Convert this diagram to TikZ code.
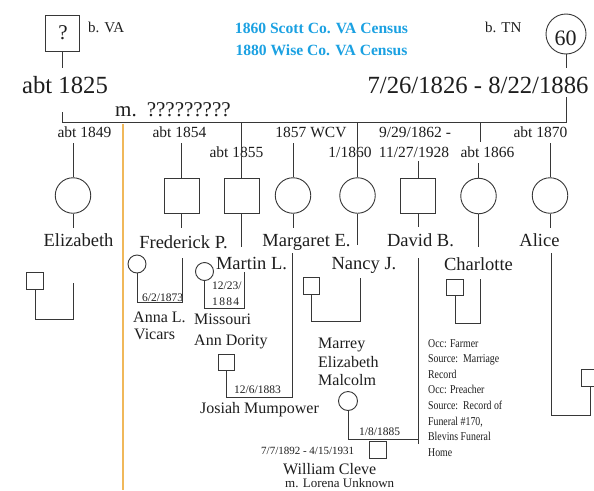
\documentclass[tikz,border=0pt]{standalone}
\usepackage{fontspec}
\setmainfont{Liberation Serif}
\definecolor{census}{RGB}{27,161,226}
\definecolor{orangeline}{RGB}{240,184,90}
\definecolor{lnc}{RGB}{55,55,55}
\definecolor{txtc}{RGB}{30,30,30}
\begin{document}
\begin{tikzpicture}[x=1pt,y=-1pt,
  ln/.style={draw=lnc, line width=0.9pt},
  bigsq/.style={draw=lnc, line width=0.9pt, minimum size=35pt, inner sep=0},
  bigc/.style={draw=lnc, line width=0.9pt, circle, minimum size=35.5pt, inner sep=0},
  smsq/.style={draw=lnc, line width=0.9pt, minimum size=16.5pt, inner sep=0},
  smc/.style={draw=lnc, line width=0.9pt, circle, minimum size=18pt, inner sep=0},
  txt/.style={inner sep=0, text=txtc},
  yr/.style={txt, anchor=base, font=\fontsize{15.5}{18}\selectfont},
  nm/.style={txt, anchor=base, font=\fontsize{18.5}{22}\selectfont},
  sp/.style={txt, anchor=base west, font=\fontsize{16}{19}\selectfont},
  dt/.style={txt, anchor=base west, font=\fontsize{11.5}{14}\selectfont},
  occ/.style={txt, anchor=base west, font=\fontsize{12}{14}\selectfont, xscale=0.82},
  big/.style={txt, anchor=base, font=\fontsize{24.7}{28}\selectfont},
  census/.style={inner sep=0, anchor=base, text=census, font=\bfseries\fontsize{15.6}{18}\selectfont},
]
\fill[white] (0,0) rectangle (594,490);
\useasboundingbox (0,0) rectangle (594,490);

% orange separator
\coordinate (oT) at (123,124);
\coordinate (oB) at (123,490);
\draw[draw=orangeline, line width=1.3pt] (oT) -- (oB);

% parents
\node[draw=lnc, line width=0.9pt, minimum width=34pt, minimum height=36pt, inner sep=0] (fa) at (62,33) {};
\node[txt, anchor=base, font=\fontsize{21}{24}\selectfont] (faq) at (63,39) {?};
\node[draw=lnc, line width=0.9pt, circle, minimum size=40pt, inner sep=0] (mo) at (566,34) {};
\node[txt, anchor=base, font=\fontsize{22}{24}\selectfont] (mon) at (565.5,45) {60};
\node[txt, anchor=base west, font=\fontsize{15}{18}\selectfont] (bva) at (88,32) {b. VA};
\node[txt, anchor=base west, font=\fontsize{15}{18}\selectfont] (btn) at (485,32) {b. TN};
\node[census] (c1) at (321.5,33) {1860 Scott Co. VA Census};
\node[census] (c2) at (321.5,55) {1880 Wise Co. VA Census};
\node[big] (fad) at (65,93) {abt 1825};
\node[big] (mod) at (478,93) {7/26/1826 - 8/22/1886};
\node[txt, anchor=base west, font=\fontsize{21}{24}\selectfont] (mar) at (115,116) {m.\hspace{10pt}?????????};

\coordinate (mL) at (62,122);
\coordinate (mR) at (566,122);
\draw[ln] (fa.south) -- (fa.south |- 0,68);
\draw[ln] (62,112) -- (mL) -- (mR) -- (566,97);
\draw[ln] (mo.south) -- (mo.south |- 0,68);

% year labels
\node[yr] (y49) at (84.5,137.5) {abt 1849};
\node[yr] (y54) at (179.5,137.5) {abt 1854};
\node[yr] (y57) at (311,137.5) {1857 WCV};
\node[yr] (y62) at (415,137.5) {9/29/1862 -};
\node[yr] (y70) at (540.5,137.5) {abt 1870};
\node[yr] (y55) at (236.5,157) {abt 1855};
\node[yr] (y60) at (350,157) {1/1860};
\node[yr] (y28) at (414,157) {11/27/1928};
\node[yr] (y66) at (487.5,157) {abt 1866};

% children
\node[bigc] (eliz) at (73,195.5) {};
\node[bigsq] (fred) at (181.5,195.5) {};
\node[bigsq] (mart) at (241.5,195.5) {};
\node[bigc] (marg) at (293,195.5) {};
\node[bigc] (nanc) at (357.5,195.5) {};
\node[bigsq] (davi) at (418,195.5) {};
\node[bigc] (char) at (478.5,196) {};
\node[bigc] (alic) at (550,195.5) {};

\node[nm] (neliz) at (78.5,246) {Elizabeth};
\node[nm] (nfred) at (183.5,248) {Frederick P.};
\node[nm] (nmarg) at (306.5,246) {Margaret E.};
\node[nm] (ndavi) at (420.5,246) {David B.};
\node[nm] (nalic) at (539.5,246) {Alice};
\node[nm] (nmart) at (251.5,269) {Martin L.};
\node[nm] (nnanc) at (364,269) {Nancy J.};
\node[nm] (nchar) at (478.5,270) {Charlotte};

% spouses and grandchildren
\node[smc] (anna) at (137,264) {};
\node[smc] (miss) at (204.5,271.5) {};
\node[smsq] (jos) at (226.5,362.5) {};
\node[smsq] (elsp) at (35,281) {};
\node[smsq] (nasp) at (311.5,286) {};
\node[smsq] (chsp) at (455,287.5) {};
\node[smsq] (alsp) at (590,378) {};
\node[smc, minimum size=19pt] (marr) at (348,401) {};
\node[smsq] (will) at (378,450) {};

\node[sp] (anna1) at (133,322) {Anna L.};
\node[sp] (anna2) at (134,339) {Vicars};
\node[sp] (miss1) at (194,324) {Missouri};
\node[sp] (miss2) at (194,345) {Ann Dority};
\node[sp] (josn) at (200,413) {Josiah Mumpower};
\node[sp] (mar1) at (318,348) {Marrey};
\node[sp] (mar2) at (318,367) {Elizabeth};
\node[sp] (mar3) at (318,385) {Malcolm};
\node[sp] (wil1) at (283,474) {William Cleve};
\node[sp, font=\fontsize{13}{15}\selectfont] (wil2) at (285,487) {m. Lorena Unknown};

\node[dt] (d1) at (142,301) {6/2/1873};
\node[dt] (d2) at (212,289) {12/23/};
\node[dt] (d3) at (212,305) {1\kern1.3pt 8\kern1.3pt 8\kern1.3pt 4};
\node[dt] (d4) at (234,393) {12/6/1883};
\node[dt] (d5) at (359,435) {1/8/1885};
\node[dt, font=\fontsize{11}{13}\selectfont] (d6) at (261,454) {7/7/1892 - 4/15/1931};

\node[occ] (o1) at (428,347) {Occ: Farmer};
\node[occ] (o2) at (428,362.6) {Source:\ \ Marriage};
\node[occ] (o3) at (428,378.2) {Record};
\node[occ] (o4) at (428,393.8) {Occ: Preacher};
\node[occ] (o5) at (428,409.4) {Source:\ \ Record of};
\node[occ] (o6) at (428,425) {Funeral \#170,};
\node[occ] (o7) at (428,440.6) {Blevins Funeral};
\node[occ] (o8) at (428,456.2) {Home};

% connectors
\draw[ln] (eliz.north) -- (eliz.north |- 0,143);
\draw[ln] (eliz.south) -- (eliz.south |- 0,228);
\draw[ln] (73,283) -- (73,319) -| (elsp.south);
\draw[ln] (fred.north) -- (fred.north |- 0,143);
\draw[ln] (fred.south) -- (fred.south |- 0,228);
\draw[ln] (182,258) -- (182,302) -| (anna.south);
\draw[ln] (mart.north) -- (mart.north |- mL);
\draw[ln] (mart.south) -- (mart.south |- 0,247);
\draw[ln] (244,272) -- (244,308) -| (miss.south);
\draw[ln] (marg.north) -- (marg.north |- 0,143);
\draw[ln] (marg.south) -- (marg.south |- 0,228);
\draw[ln] (292,253) -- (292,397) -| (jos.south);
\draw[ln] (nanc.north) -- (nanc.north |- mL);
\draw[ln] (nanc.south) -- (nanc.south |- 0,245);
\draw[ln] (360,278) -- (360,321) -| (nasp.south);
\draw[ln] (davi.north) -- (davi.north |- 0,161);
\draw[ln] (davi.south) -- (davi.south |- 0,227);
\draw[ln] (418,258) -- (418,444);
\draw[ln] (marr.south) |- (418,439);
\draw[ln] (480,122) -- (480,142);
\draw[ln] (char.north) -- (char.north |- 0,163);
\draw[ln] (char.south) -- (char.south |- 0,247);
\draw[ln] (480,279) -- (480,323) -| (chsp.south);
\draw[ln] (alic.north) -- (alic.north |- 0,143);
\draw[ln] (alic.south) -- (alic.south |- 0,228);
\draw[ln] (551,253) -- (551,415) -| (alsp.south);
\end{tikzpicture}
\end{document}
